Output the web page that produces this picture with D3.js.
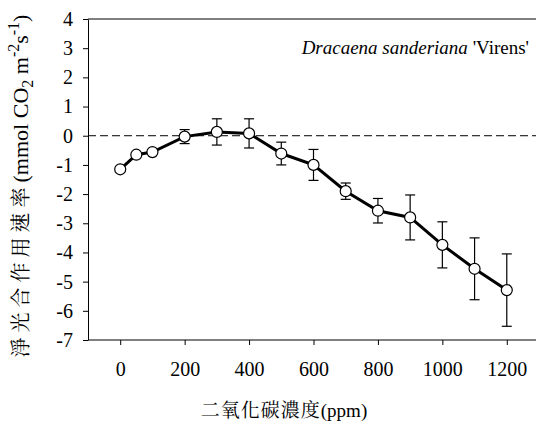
<!DOCTYPE html>
<html><head><meta charset="utf-8">
<script src="https://cdn.jsdelivr.net/npm/d3@7"></script>
<style>body{margin:0;background:#fff}svg{display:block}</style>
</head><body>
<script>
const co2 = [0, 50, 100, 200, 300, 400, 500, 600, 700, 800, 900, 1000, 1100, 1200];
const netPhoto = [-1.15, -0.65, -0.56, -0.03, 0.13, 0.08, -0.61, -1.0, -1.90, -2.57, -2.80, -3.74, -4.56, -5.29];
const errLow = [0, 0, 0, 0.24, 0.45, 0.5, 0.39, 0.53, 0.28, 0.42, 0.77, 0.79, 1.06, 1.24];
const errHigh = [0, 0, 0, 0.24, 0.45, 0.5, 0.39, 0.53, 0.28, 0.42, 0.77, 0.79, 1.06, 1.24];
const xTicks = [0, 200, 400, 600, 800, 1000, 1200];
const yTicks = [4, 3, 2, 1, 0, -1, -2, -3, -4, -5, -6, -7];

const W = 536, H = 425;
const svg = d3.select("body").append("svg").attr("width", W).attr("height", H);
const font = "'Liberation Serif','Times New Roman',serif";
const cjk = "'Liberation Serif','Noto Serif CJK TC','Noto Sans CJK TC',serif";

const x = d3.scaleLinear().domain([-100, 1300]).range([88, 539]);
const y = d3.scaleLinear().domain([-7, 4]).range([340, 19]);

// frame top
svg.append("line").attr("x1", x(-100)).attr("x2", W).attr("y1", y(4)).attr("y2", y(4))
  .attr("stroke", "#000").attr("stroke-width", 1);

// zero dashed
svg.append("line").attr("x1", x(-100)).attr("x2", W).attr("y1", y(0)).attr("y2", y(0))
  .attr("stroke", "#000").attr("stroke-width", 1).attr("stroke-dasharray", "8,4");

const fmt = d => String(d);
const xAxis = svg.append("g").attr("transform", `translate(0,${y(-7)})`)
  .call(d3.axisBottom(x).tickValues(xTicks).tickSize(5).tickSizeOuter(0).tickPadding(17).tickFormat(fmt));
const yAxis = svg.append("g").attr("transform", `translate(${x(-100)},0)`)
  .call(d3.axisLeft(y).tickValues(yTicks).tickSize(5).tickSizeOuter(0).tickPadding(10).tickFormat(fmt));
[xAxis, yAxis].forEach(g => {
  g.attr("font-family", null).attr("font-size", null);
  g.select(".domain").attr("stroke", "#000");
  g.selectAll(".tick line").attr("stroke", "#000");
  g.selectAll(".tick text").style("font-family", font).style("font-size", "20px").attr("fill", "#000");
});
xAxis.select(".domain").attr("d", `M${x(-100)},0H${W}`);

const data = co2.map((c, i) => ({c, v: netPhoto[i], lo: netPhoto[i] - errLow[i], hi: netPhoto[i] + errHigh[i]}));

// error bars
const eb = svg.append("g").attr("stroke", "#000").attr("stroke-width", 1.2);
data.filter(d => d.hi !== d.lo).forEach(d => {
  eb.append("line").attr("x1", x(d.c)).attr("x2", x(d.c)).attr("y1", y(d.hi)).attr("y2", y(d.lo));
  eb.append("line").attr("x1", x(d.c) - 5).attr("x2", x(d.c) + 5).attr("y1", y(d.hi)).attr("y2", y(d.hi));
  eb.append("line").attr("x1", x(d.c) - 5).attr("x2", x(d.c) + 5).attr("y1", y(d.lo)).attr("y2", y(d.lo));
});

svg.append("path").datum(data)
  .attr("d", d3.line().x(d => x(d.c)).y(d => y(d.v)))
  .attr("fill", "none").attr("stroke", "#000").attr("stroke-width", 3);

svg.append("g").selectAll("circle").data(data).join("circle")
  .attr("cx", d => x(d.c)).attr("cy", d => y(d.v)).attr("r", 5.5)
  .attr("fill", "#fff").attr("stroke", "#000").attr("stroke-width", 1.2);

// species label
const sp = svg.append("text").attr("x", 529).attr("y", 54).attr("text-anchor", "end")
  .style("font-family", font).style("font-size", "19px");
sp.append("tspan").attr("font-style", "italic").text("Dracaena sanderiana");
sp.append("tspan").text(" 'Virens'");

// x title
const xt = svg.append("text").attr("x", 284).attr("y", 417).attr("text-anchor", "middle")
  .style("font-family", cjk).style("font-size", "19px");
xt.append("tspan").style("letter-spacing", "1px").text("二氧化碳濃度");
xt.append("tspan").text("(ppm)");

// y title
const yt = svg.append("text").attr("transform", "translate(28,186) rotate(-90)")
  .attr("text-anchor", "middle").style("font-family", cjk).style("font-size", "22px");
yt.append("tspan").style("font-size", "20px").style("letter-spacing", "5px").text("淨光合作用速率");
yt.append("tspan").text("(mmol CO");
yt.append("tspan").style("font-size", "16px").attr("dy", 5).text("2");
yt.append("tspan").attr("dy", -5).text(" m");
yt.append("tspan").style("font-size", "16px").attr("dy", -9).text("-2");
yt.append("tspan").attr("dy", 9).text("s");
yt.append("tspan").style("font-size", "16px").attr("dy", -9).text("-1");
yt.append("tspan").attr("dy", 9).text(")");
</script>
</body></html>
